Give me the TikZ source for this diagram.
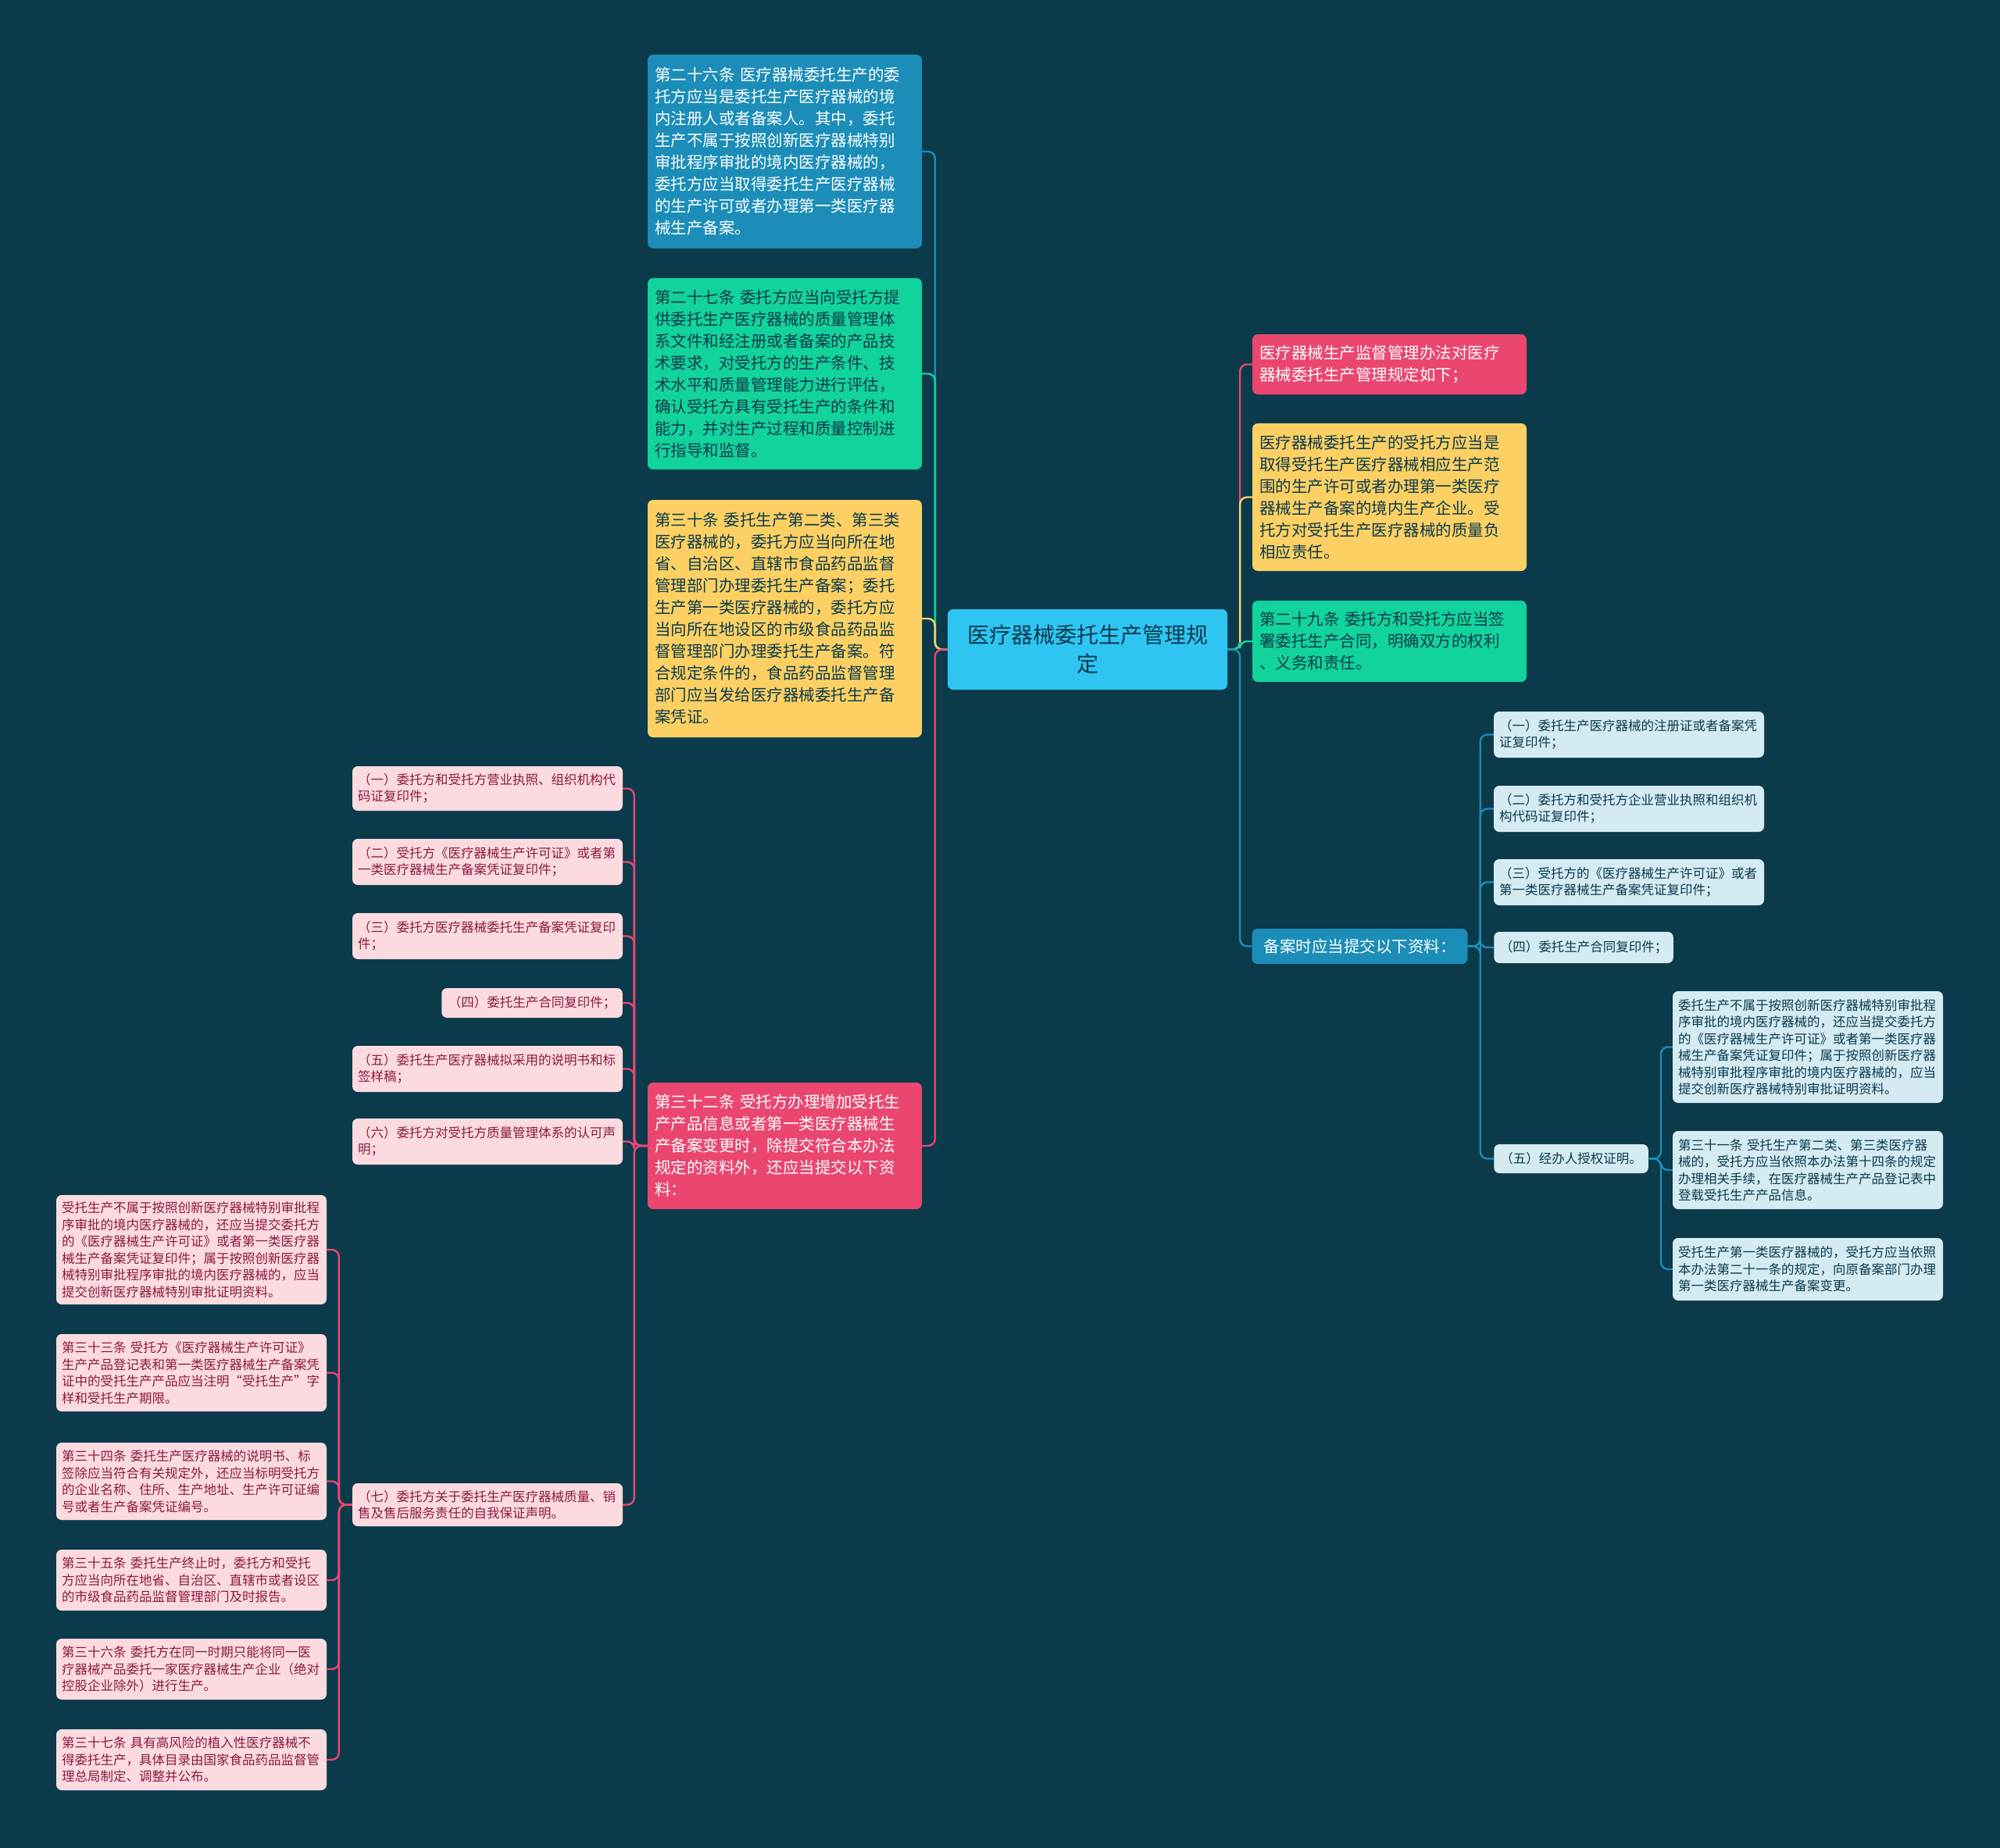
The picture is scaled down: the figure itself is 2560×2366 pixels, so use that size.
\documentclass[tikz,border=0pt]{standalone}
\usepackage{fontspec}
\newfontfamily\cjk{Noto Sans CJK SC}
\usetikzlibrary{positioning}

\definecolor{bgteal}{HTML}{0B3A4B}
\definecolor{croot}{HTML}{2EC5F3}
\definecolor{cblue}{HTML}{1B8DB8}
\definecolor{cgreen}{HTML}{12D39B}
\definecolor{cyellow}{HTML}{FDD064}
\definecolor{cred}{HTML}{EA4670}
\definecolor{clight}{HTML}{D5EBF2}
\definecolor{cpink}{HTML}{FBDAE0}
\definecolor{inkdark}{HTML}{0B3A4B}
\definecolor{inkred}{HTML}{8C1B40}

\tikzset{
  box/.style={rounded corners=7pt, inner ysep=0pt, align=left, text=inkdark},
  big/.style={box, text width=333pt, inner xsep=9pt, font=\cjk\fontsize{20.5}{28}\selectfont},
  small/.style={box, text width=332pt, inner xsep=7pt, font=\cjk\fontsize{16.5}{21.5}\selectfont},
  pinkbox/.style={small, fill=cpink, text=inkred},
  bluebox/.style={small, fill=clight},
  link/.style={line width=2.4pt, rounded corners=9pt},
}

\begin{document}
\begin{tikzpicture}[x=1pt, y=-1pt]
  \fill[bgteal] (0,0) rectangle (2560,2366);

  % centre
  \node[box, fill=croot, align=center, minimum width=358pt, minimum height=103pt,
        font=\cjk\fontsize{28}{37}\selectfont] (root) at (1392,831.5)
        {医疗器械委托生产管理规\\定};

  % left branch
  \node[big, fill=cblue, text=white, minimum height=248pt] (a26) at (1004.5,194)
    {第二十六条~医疗器械委托生产的委\\托方应当是委托生产医疗器械的境\\内注册人或者备案人。其中，委托\\生产不属于按照创新医疗器械特别\\审批程序审批的境内医疗器械的，\\委托方应当取得委托生产医疗器械\\的生产许可或者办理第一类医疗器\\械生产备案。};
  \node[big, fill=cgreen, minimum height=245pt] (a27) at (1004.5,478.5)
    {第二十七条~委托方应当向受托方提\\供委托生产医疗器械的质量管理体\\系文件和经注册或者备案的产品技\\术要求，对受托方的生产条件、技\\术水平和质量管理能力进行评估，\\确认受托方具有受托生产的条件和\\能力，并对生产过程和质量控制进\\行指导和监督。};
  \node[big, fill=cyellow, minimum height=304pt] (a30) at (1004.5,792)
    {第三十条~委托生产第二类、第三类\\医疗器械的，委托方应当向所在地\\省、自治区、直辖市食品药品监督\\管理部门办理委托生产备案；委托\\生产第一类医疗器械的，委托方应\\当向所在地设区的市级食品药品监\\督管理部门办理委托生产备案。符\\合规定条件的，食品药品监督管理\\部门应当发给医疗器械委托生产备\\案凭证。};
  \node[big, fill=cred, text=white, minimum height=162pt] (a32) at (1004.5,1467)
    {第三十二条~受托方办理增加受托生\\产产品信息或者第一类医疗器械生\\产备案变更时，除提交符合本办法\\规定的资料外，还应当提交以下资\\料：};

  \node[pinkbox, minimum height=57pt] (p1) at (624,1009.5)
    {（一）委托方和受托方营业执照、组织机构代\\码证复印件；};
  \node[pinkbox, minimum height=59pt] (p2) at (624,1103.5)
    {（二）受托方《医疗器械生产许可证》或者第\\一类医疗器械生产备案凭证复印件；};
  \node[pinkbox, minimum height=59pt] (p3) at (624,1198.5)
    {（三）委托方医疗器械委托生产备案凭证复印\\件；};
  \node[box, fill=cpink, text=inkred, inner xsep=8.5pt, minimum height=38pt,
        font=\cjk\fontsize{16.5}{21.5}\selectfont] (p4) at (681,1284)
    {（四）委托生产合同复印件；};
  \node[pinkbox, minimum height=59pt] (p5) at (624,1368.5)
    {（五）委托生产医疗器械拟采用的说明书和标\\签样稿；};
  \node[pinkbox, minimum height=59pt] (p6) at (624,1461.5)
    {（六）委托方对受托方质量管理体系的认可声\\明；};
  \node[pinkbox, minimum height=55pt] (p7) at (624,1926.5)
    {（七）委托方关于委托生产医疗器械质量、销\\售及售后服务责任的自我保证声明。};

  \node[pinkbox, minimum height=140pt] (q1) at (245,1600)
    {受托生产不属于按照创新医疗器械特别审批程\\序审批的境内医疗器械的，还应当提交委托方\\的《医疗器械生产许可证》或者第一类医疗器\\械生产备案凭证复印件；属于按照创新医疗器\\械特别审批程序审批的境内医疗器械的，应当\\提交创新医疗器械特别审批证明资料。};
  \node[pinkbox, minimum height=99pt] (q2) at (245,1757.5)
    {第三十三条~受托方《医疗器械生产许可证》\\生产产品登记表和第一类医疗器械生产备案凭\\证中的受托生产产品应当注明“受托生产”字\\样和受托生产期限。};
  \node[pinkbox, minimum height=99pt] (q3) at (245,1896.5)
    {第三十四条~委托生产医疗器械的说明书、标\\签除应当符合有关规定外，还应当标明受托方\\的企业名称、住所、生产地址、生产许可证编\\号或者生产备案凭证编号。};
  \node[pinkbox, minimum height=78pt] (q4) at (245,2023)
    {第三十五条~委托生产终止时，委托方和受托\\方应当向所在地省、自治区、直辖市或者设区\\的市级食品药品监督管理部门及时报告。};
  \node[pinkbox, minimum height=78pt] (q5) at (245,2137)
    {第三十六条~委托方在同一时期只能将同一医\\疗器械产品委托一家医疗器械生产企业（绝对\\控股企业除外）进行生产。};
  \node[pinkbox, minimum height=78pt] (q6) at (245,2253)
    {第三十七条~具有高风险的植入性医疗器械不\\得委托生产，具体目录由国家食品药品监督管\\理总局制定、调整并公布。};

  % right branch
  \node[big, fill=cred, text=white, minimum height=77pt] (r1) at (1778.5,466.5)
    {医疗器械生产监督管理办法对医疗\\器械委托生产管理规定如下；};
  \node[big, fill=cyellow, minimum height=189pt] (r2) at (1778.5,636.5)
    {医疗器械委托生产的受托方应当是\\取得受托生产医疗器械相应生产范\\围的生产许可或者办理第一类医疗\\器械生产备案的境内生产企业。受\\托方对受托生产医疗器械的质量负\\相应责任。};
  \node[big, fill=cgreen, minimum height=104pt] (r3) at (1778.5,821)
    {第二十九条~委托方和受托方应当签\\署委托生产合同，明确双方的权利\\、义务和责任。};
  \node[box, fill=cblue, text=white, inner xsep=15pt, minimum height=45pt,
        font=\cjk\fontsize{20.5}{28}\selectfont] (r4) at (1740.5,1211.5)
    {备案时应当提交以下资料：};

  \node[bluebox, minimum height=59pt] (c1) at (2085,940.5)
    {（一）委托生产医疗器械的注册证或者备案凭\\证复印件；};
  \node[bluebox, minimum height=59pt] (c2) at (2085,1035.5)
    {（二）委托方和受托方企业营业执照和组织机\\构代码证复印件；};
  \node[bluebox, minimum height=59pt] (c3) at (2085,1129.5)
    {（三）受托方的《医疗器械生产许可证》或者\\第一类医疗器械生产备案凭证复印件；};
  \node[box, fill=clight, inner xsep=7.5pt, minimum height=40pt,
        font=\cjk\fontsize{16.5}{21.5}\selectfont] (c4) at (2027,1213)
    {（四）委托生产合同复印件；};
  \node[box, fill=clight, inner xsep=8pt, minimum height=37pt,
        font=\cjk\fontsize{16.5}{21.5}\selectfont] (c5) at (2011,1483.5)
    {（五）经办人授权证明。};

  \node[bluebox, minimum height=143pt] (g1) at (2314,1340.5)
    {委托生产不属于按照创新医疗器械特别审批程\\序审批的境内医疗器械的，还应当提交委托方\\的《医疗器械生产许可证》或者第一类医疗器\\械生产备案凭证复印件；属于按照创新医疗器\\械特别审批程序审批的境内医疗器械的，应当\\提交创新医疗器械特别审批证明资料。};
  \node[bluebox, minimum height=100pt] (g2) at (2314,1498)
    {第三十一条~受托生产第二类、第三类医疗器\\械的，受托方应当依照本办法第十四条的规定\\办理相关手续，在医疗器械生产产品登记表中\\登载受托生产产品信息。};
  \node[bluebox, minimum height=80pt] (g3) at (2314,1625)
    {受托生产第一类医疗器械的，受托方应当依照\\本办法第二十一条的规定，向原备案部门办理\\第一类医疗器械生产备案变更。};

  % connectors
  \draw[link, cblue]   (root.west) -- ++(-16,0) |- (a26.east);
  \draw[link, cgreen]  (root.west) -- ++(-16,0) |- (a27.east);
  \draw[link, cyellow] (root.west) -- ++(-16,0) |- (a30.east);
  \draw[link, cred]    (root.west) -- ++(-16,0) |- (a32.east);
  \draw[link, cred]    (root.east) -- ++(16,0) |- (r1.west);
  \draw[link, cyellow] (root.east) -- ++(16,0) |- (r2.west);
  \draw[link, cgreen]  (root.east) -- ++(16,0) |- (r3.west);
  \draw[link, cblue]   (root.east) -- ++(16,0) |- (r4.west);
  \foreach \n in {p1,p2,p3,p4,p5,p6,p7}
    \draw[link, cred] (a32.west) -- ++(-17,0) |- (\n.east);
  \foreach \n in {q1,q2,q3,q4,q5,q6}
    \draw[link, cred] (p7.west) -- ++(-17,0) |- (\n.east);
  \foreach \n in {c1,c2,c3,c4,c5}
    \draw[link, cblue] (r4.east) -- ++(16,0) |- (\n.west);
  \foreach \n in {g1,g2,g3}
    \draw[link, cblue] (c5.east) -- ++(16,0) |- (\n.west);
\end{tikzpicture}
\end{document}
